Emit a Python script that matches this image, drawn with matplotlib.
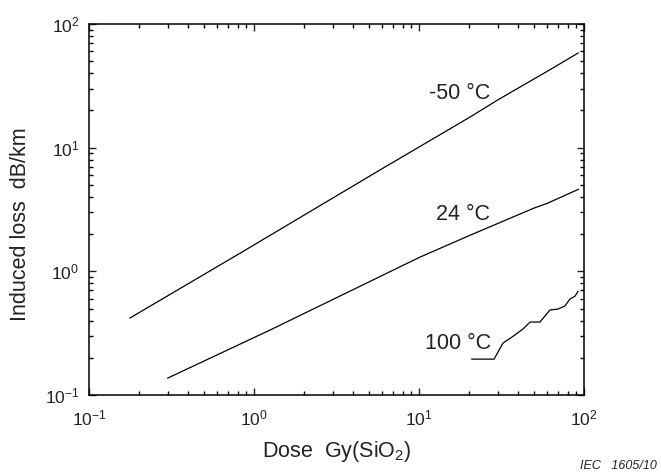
import matplotlib
matplotlib.use("Agg")
import matplotlib.pyplot as plt
from matplotlib.ticker import LogLocator, NullFormatter

plt.rcParams['font.family'] = ['Liberation Sans', 'DejaVu Sans']
plt.rcParams['mathtext.fontset'] = 'custom'
plt.rcParams['mathtext.rm'] = 'Liberation Sans'
plt.rcParams['mathtext.it'] = 'Liberation Sans:italic'

# -50 °C curve
dose_m50 = [0.177, 0.822, 5.80, 9.23, 20.4, 30.0, 40.9, 60.0, 92.0]
loss_m50 = [0.419, 1.40, 6.60, 9.50, 17.7, 24.3, 30.9, 41.5, 58.2]

# 24 °C curve
dose_24 = [0.30, 1.25, 7.16, 10.1, 19.9, 49.3, 60.0, 92.3]
loss_24 = [0.137, 0.335, 1.04, 1.30, 1.93, 3.23, 3.55, 4.60]

# 100 °C curve
dose_100 = [20.9, 28.5, 32.3, 36.6, 42.7, 47.1, 54.1, 62.2, 69.5, 76.7, 82.2, 88.2, 92.0]
loss_100 = [0.195, 0.195, 0.263, 0.294, 0.342, 0.389, 0.389, 0.487, 0.495, 0.525, 0.597, 0.63, 0.69]

labels = ["-50 °C", "24 °C", "100 °C"]
label_pos = [(17.7, 27.6), (18.5, 2.90), (17.2, 0.263)]

fig = plt.figure(figsize=(6.61, 4.75), dpi=100)
ax = fig.add_axes([89/661, 1-395/475, (584-89)/661, (395-24)/475])

for d, l in [(dose_m50, loss_m50), (dose_24, loss_24), (dose_100, loss_100)]:
    ax.plot(d, l, color='black', lw=0.9)

ax.set_xscale('log')
ax.set_yscale('log')
ax.set_xlim(0.1, 100)
ax.set_ylim(0.1, 100)

for txt, (x, y) in zip(labels, label_pos):
    ax.text(x, y, txt, fontsize=15.5, ha='center', va='center', color='#222222')

ax.xaxis.set_major_locator(LogLocator(base=10, numticks=10))
ax.yaxis.set_major_locator(LogLocator(base=10, numticks=10))
ax.xaxis.set_minor_locator(LogLocator(base=10, subs=range(2, 10), numticks=20))
ax.yaxis.set_minor_locator(LogLocator(base=10, subs=range(2, 10), numticks=20))
ax.xaxis.set_minor_formatter(NullFormatter())
ax.yaxis.set_minor_formatter(NullFormatter())

ax.tick_params(which='both', direction='in', top=True, right=True, width=1.0)
ax.tick_params(which='major', length=5, labelsize=12.5, colors='#222222')
ax.tick_params(axis='x', which='major', pad=10)
ax.tick_params(axis='y', which='major', pad=7)
ax.tick_params(which='minor', length=3)
for s in ax.spines.values():
    s.set_linewidth(1.1)

ax.set_xlabel("Dose  Gy(SiO$_2$)", fontsize=15.5, labelpad=7, color='#222222')
ax.set_ylabel("Induced loss  dB/km", fontsize=15.5, color='#222222')
ax.yaxis.set_label_coords(-0.117, 0.46)

fig.text(657/661, 1-466/475, "IEC   1605/10", fontsize=9, style='italic',
         ha='right', va='center', color='#222222')

fig.savefig("out.png", dpi=100)
